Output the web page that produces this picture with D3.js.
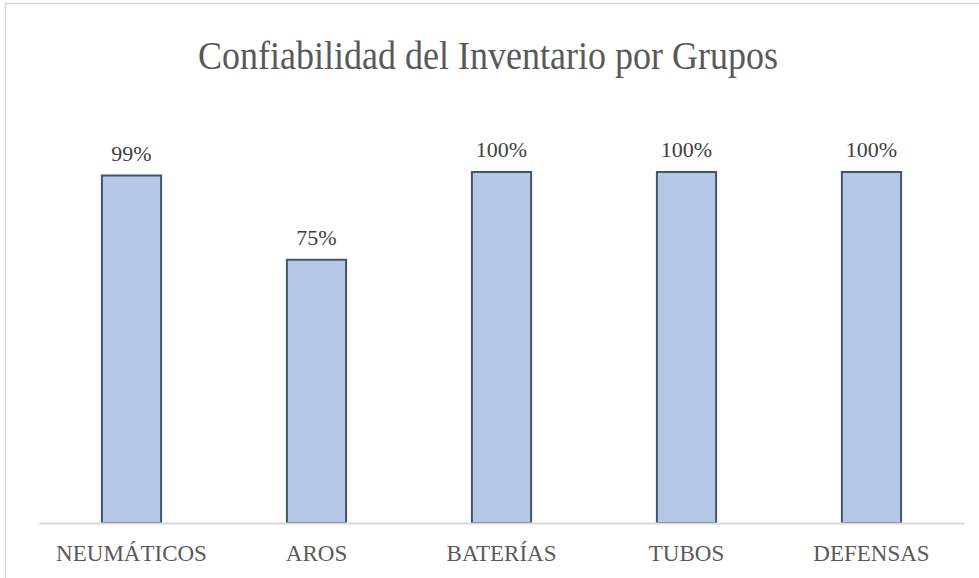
<!DOCTYPE html>
<html>
<head>
<meta charset="utf-8">
<script src="https://cdn.jsdelivr.net/npm/d3@7.9.0/dist/d3.min.js"></script>
<style>
  body { margin: 0; background: #fff; }
  svg { display: block; }
</style>
</head>
<body>
<script>
// data
const categories = ["NEUMÁTICOS", "AROS", "BATERÍAS", "TUBOS", "DEFENSAS"];
const values = [0.99, 0.75, 1.00, 1.00, 1.00];
const valueLabels = ["99%", "75%", "100%", "100%", "100%"];

const FONT = '"Liberation Serif", serif';
const W = 979, H = 578;
const margin = { top: 172, right: 15, bottom: 55, left: 39 };
const width = W - margin.left - margin.right;   // 925
const height = H - margin.top - margin.bottom;  // 351

const svg = d3.select("body").append("svg")
    .attr("width", W)
    .attr("height", H);

// chart border
svg.append("rect")
    .attr("x", 5.5)
    .attr("y", 3.5)
    .attr("width", W + 10)
    .attr("height", H + 10)
    .attr("fill", "none")
    .attr("stroke", "#D9D9D9")
    .attr("stroke-width", 1.5);

// title
svg.append("text")
    .attr("x", 488)
    .attr("y", 0)
    .attr("text-anchor", "middle")
    .attr("transform", "translate(0,69) scale(1,1.12)")
    .style("font-family", FONT)
    .style("font-size", "36px")
    .attr("fill", "#595959")
    .text("Confiabilidad del Inventario por Grupos");

const g = svg.append("g")
    .attr("transform", `translate(${margin.left},${margin.top})`);

const x = d3.scaleBand()
    .domain(categories)
    .range([0, width])
    .paddingInner(0.68)
    .paddingOuter(0.34);

const y = d3.scaleLinear()
    .domain([0, 1])
    .range([height, 0]);

// bars
g.selectAll(".bar")
    .data(values)
    .enter().append("rect")
    .attr("class", "bar")
    .attr("x", (d, i) => x(categories[i]))
    .attr("y", d => y(d))
    .attr("width", x.bandwidth())
    .attr("height", d => height - y(d))
    .attr("fill", "#B4C7E7")
    .attr("stroke", "#44546A")
    .attr("stroke-width", 2);

// x axis
const xAxis = g.append("g")
    .attr("transform", `translate(0,${height})`)
    .call(d3.axisBottom(x).tickSize(0).tickPadding(22).tickSizeOuter(0));
xAxis.select(".domain")
    .attr("stroke", "#D9D9D9")
    .attr("stroke-width", 2);
xAxis.selectAll("text")
    .style("font-family", FONT)
    .style("font-size", "23px")
    .attr("fill", "#595959");

// value labels
g.selectAll(".vlabel")
    .data(values)
    .enter().append("text")
    .attr("class", "vlabel")
    .attr("x", (d, i) => x(categories[i]) + x.bandwidth() / 2)
    .attr("y", d => y(d) - 15)
    .attr("text-anchor", "middle")
    .style("font-family", FONT)
    .style("font-size", "22px")
    .attr("fill", "#404040")
    .text((d, i) => valueLabels[i]);
</script>
</body>
</html>
